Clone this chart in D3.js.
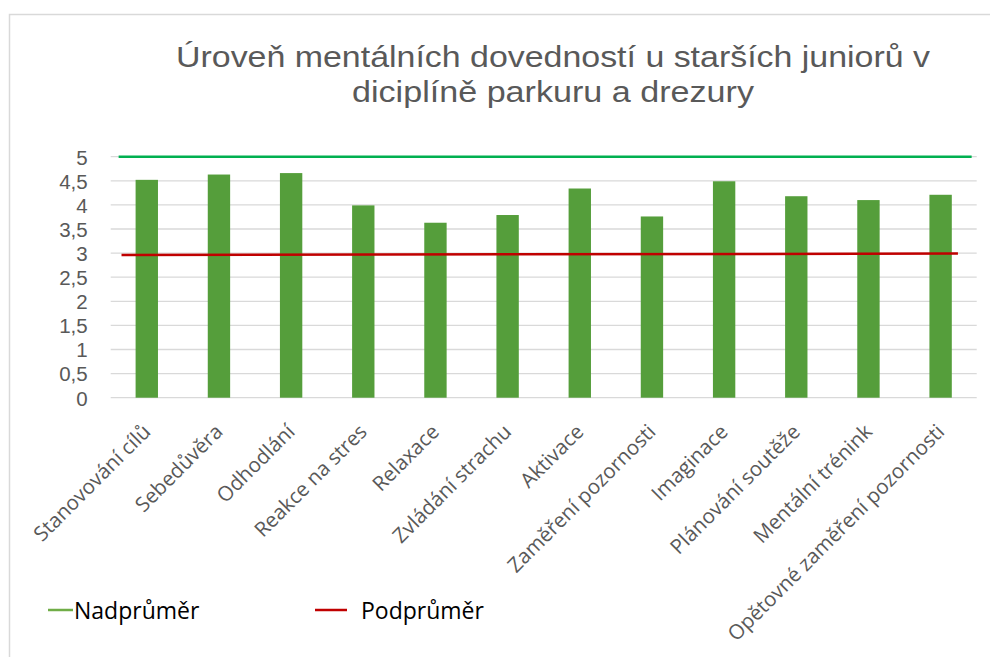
<!DOCTYPE html>
<html lang="cs">
<head>
  <meta charset="UTF-8">
  <title>Úroveň mentálních dovedností</title>
  <script src="https://cdn.jsdelivr.net/npm/d3@7"></script>
  <style>
    body { margin: 0; background: #fff; }
    text { font-family: "Open Sans", "Noto Sans", sans-serif; }
  </style>
</head>
<body>
  <div id="chart"></div>
  <script>
    // Data
    const categories = [
      "Stanovování cílů", "Sebedůvěra", "Odhodlání", "Reakce na stres",
      "Relaxace", "Zvládání strachu", "Aktivace", "Zaměření pozornosti",
      "Imaginace", "Plánování soutěže", "Mentální trénink", "Opětovné zaměření pozornosti"
    ];
    const values = [4.52, 4.63, 4.66, 3.99, 3.63, 3.79, 4.34, 3.76, 4.49, 4.18, 4.10, 4.21];
    const yTicks = [0, 0.5, 1, 1.5, 2, 2.5, 3, 3.5, 4, 4.5, 5];
    // reference lines: [category index, value]
    const nadprumer = [[-0.39, 5], [11.43, 5]];
    const podprumer = [[-0.35, 2.96], [11.24, 2.99]];
    const titleLines = ["Úroveň mentálních dovedností u starších juniorů v", "diciplíně parkuru a drezury"];
    const legendItems = ["Nadprůměr", "Podprůměr"];

    const W = 990, H = 657;
    const plot = { left: 110.7, right: 976.7, top: 156.7, bottom: 397.7 };

    const svg = d3.select("#chart").append("svg")
      .attr("width", W)
      .attr("height", H);

    // chart border
    svg.append("rect")
      .attr("x", 9.5).attr("y", 14.5)
      .attr("width", W + 10).attr("height", H + 10)
      .attr("fill", "#fff")
      .attr("stroke", "#d9d9d9")
      .attr("stroke-width", 1.5);

    const x = d3.scaleBand()
      .domain(categories)
      .range([plot.left, plot.right])
      .paddingInner(0.69)
      .paddingOuter(0.345);

    const xIdx = d3.scaleLinear()
      .domain([-0.5, categories.length - 0.5])
      .range([plot.left, plot.right]);

    const y = d3.scaleLinear()
      .domain([0, 5])
      .range([plot.bottom, plot.top]);

    // title (widths pinned to the reference)
    const titleWidths = [754, 402];
    svg.append("g")
      .selectAll("text")
      .data(titleLines)
      .join("text")
        .attr("x", 553)
        .attr("y", (d, i) => 67 + i * 35)
        .attr("text-anchor", "middle")
        .attr("fill", "#595959")
        .attr("textLength", (d, i) => titleWidths[i])
        .attr("lengthAdjust", "spacingAndGlyphs")
        .style("font-family", "'Liberation Sans', Arial, sans-serif")
        .style("font-size", "30px")
        .text(d => d);

    // gridlines
    svg.append("g")
      .selectAll("line")
      .data(yTicks)
      .join("line")
        .attr("x1", plot.left)
        .attr("x2", plot.right)
        .attr("y1", d => y(d))
        .attr("y2", d => y(d))
        .attr("stroke", "#d9d9d9")
        .attr("stroke-width", 1.3);

    // y axis labels
    const yAxis = svg.append("g")
      .attr("transform", `translate(${plot.left - 23},0)`)
      .call(d3.axisLeft(y).tickValues(yTicks).tickSize(0).tickPadding(0)
        .tickFormat(d => String(d).replace(".", ",")));
    yAxis.select(".domain").remove();
    yAxis.selectAll("text")
      .attr("fill", "#595959")
      .attr("dy", "0.36em")
      .style("font-size", "20.5px")
      .style("font-family", "'Liberation Sans', Arial, sans-serif");

    // bars
    svg.append("g")
      .selectAll("rect")
      .data(values)
      .join("rect")
        .attr("x", (d, i) => x(categories[i]))
        .attr("y", d => y(d))
        .attr("width", x.bandwidth())
        .attr("height", d => y(0) - y(d))
        .attr("fill", "#559e3b");

    // x labels
    svg.append("g")
      .selectAll("text")
      .data(categories)
      .join("text")
        .attr("transform", d => `translate(${x(d) + x.bandwidth() / 2 + 5},433) rotate(-45)`)
        .attr("text-anchor", "end")
        .attr("fill", "#595959")
        .style("font-size", "20.5px")
        .text(d => d);

    // reference lines
    const line = d3.line()
      .x(d => xIdx(d[0]))
      .y(d => y(d[1]));

    svg.append("path")
      .datum(nadprumer)
      .attr("fill", "none")
      .attr("stroke", "#00b050")
      .attr("stroke-width", 2.5)
      .attr("d", line);

    svg.append("path")
      .datum(podprumer)
      .attr("fill", "none")
      .attr("stroke", "#c00000")
      .attr("stroke-width", 2.5)
      .attr("d", line);

    // legend
    const legendColors = ["#70ad47", "#c00000"];
    const legendX = [[48, 73, 74], [315, 347, 361]];
    const legend = svg.append("g")
      .selectAll("g")
      .data(legendItems)
      .join("g");
    legend.append("line")
      .attr("x1", (d, i) => legendX[i][0])
      .attr("x2", (d, i) => legendX[i][1])
      .attr("y1", 610)
      .attr("y2", 610)
      .attr("stroke", (d, i) => legendColors[i])
      .attr("stroke-width", 2.5);
    legend.append("text")
      .attr("x", (d, i) => legendX[i][2])
      .attr("y", 619)
      .attr("fill", "#000")
      .style("font-size", "23px")
      .text(d => d);
  </script>
</body>
</html>
